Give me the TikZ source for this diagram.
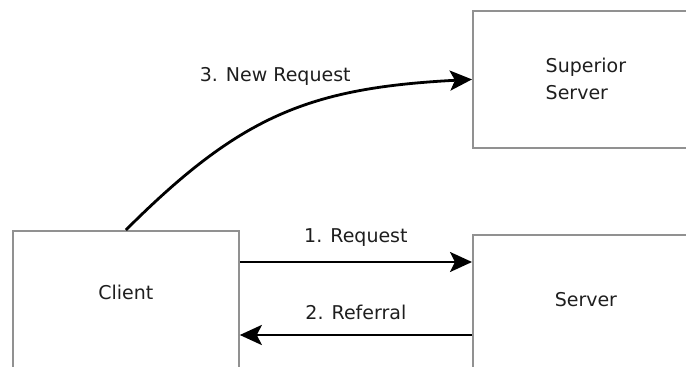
\documentclass[tikz,border=0pt]{standalone}
\usepackage{fontspec}
\setmainfont{DejaVu Sans}
\usetikzlibrary{positioning,arrows.meta}
\definecolor{boxgray}{RGB}{145,145,145}
\definecolor{textgray}{RGB}{30,30,30}

\begin{document}
\begin{tikzpicture}[x=1pt,y=1pt,font=\fontsize{19}{27}\selectfont,text=textgray,
  box/.style={draw=boxgray,line width=1.8pt,minimum width=226pt,inner sep=0pt,anchor=north west},
  flow/.style={-{Stealth[length=22pt,width=20pt,inset=5pt]},line width=2.8pt}]
  \useasboundingbox (0,0) rectangle (686,367);
  \clip (0,0) rectangle (686,367);

  \node[box,minimum height=200pt](client) at (12,137) {};
  \node[box,minimum height=137pt,align=left](superior) at (472,357) {Superior\\Server};
  \node[box,minimum height=200pt](server) at (472,133) {};
  \node[below=62pt of client.north,anchor=center](clientname){Client};
  \node[below=66pt of server.north,anchor=center](servername){Server};

  \path[flow]
  ([yshift=-32pt]client.north east) edge node[yshift=24pt] {1. Request} ([yshift=-28pt]server.north west)
  ([yshift=-101pt]server.north west) edge node[yshift=23pt] {2. Referral} ([yshift=-105pt]client.north east)
  (client.north) edge [out=45,in=183,looseness=1.1] node[xshift=-6pt,yshift=38pt] {3. New Request} (superior.west);
\end{tikzpicture}
\end{document}
